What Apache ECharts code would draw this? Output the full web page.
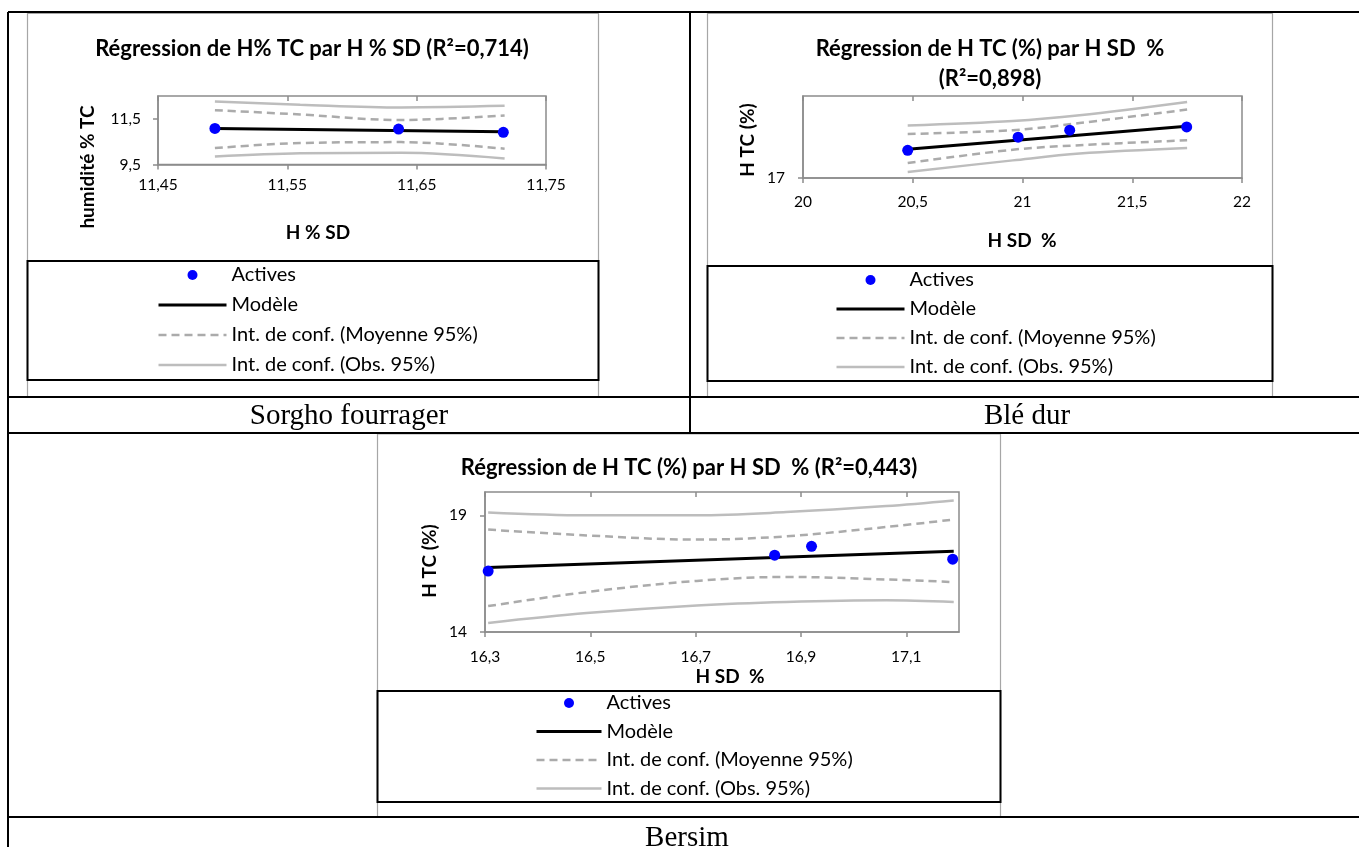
<!DOCTYPE html>
<html>
<head>
<meta charset="utf-8">
<title>Régressions H TC / H SD</title>
<script src="https://cdn.jsdelivr.net/npm/echarts@6/dist/echarts.min.js"></script>
<style>
  html, body { margin: 0; padding: 0; background: #fff; }
  #chart { width: 1359px; height: 847px; }
</style>
</head>
<body>
<div id="chart"></div>
<script>
// ---------- Sorgho fourrager ----------
const sorghoX = [11.494, 11.636, 11.717];
const sorghoY = [11.08, 11.05, 10.91];
const sorghoModelX = [11.494, 11.717];
const sorghoModelY = [11.08, 10.93];
const sorghoBandX = [11.494, 11.56, 11.638, 11.718];
const sorghoMeanUp = [11.88, 11.69, 11.45, 11.65];
const sorghoMeanLow = [10.22, 10.44, 10.48, 10.19];
const sorghoObsUp = [12.26, 12.12, 12.0, 12.07];
const sorghoObsLow = [9.85, 9.99, 10.01, 9.76];
const sorghoXTicks = [11.45, 11.55, 11.65, 11.75];
const sorghoYTicks = [9.5, 11.5];

// ---------- Blé dur ----------
const bleX = [20.477, 20.98, 21.215, 21.748];
const bleY = [18.35, 18.99, 19.33, 19.49];
const bleModelX = [20.477, 21.748];
const bleModelY = [18.40, 19.53];
const bleBandX = [20.477, 20.956, 21.26, 21.75];
const bleMeanUp = [19.15, 19.33, 19.68, 20.34];
const bleMeanLow = [17.73, 18.38, 18.60, 18.84];
const bleObsUp = [19.56, 19.78, 20.06, 20.71];
const bleObsLow = [17.29, 17.86, 18.19, 18.46];
const bleXTicks = [20, 20.5, 21, 21.5, 22];
const bleYTicks = [17];

// ---------- Bersim ----------
const bersimX = [16.306, 16.85, 16.92, 17.188];
const bersimY = [16.61, 17.29, 17.67, 17.12];
const bersimModelX = [16.306, 17.19];
const bersimModelY = [16.76, 17.46];
const bersimBandX = [16.306, 16.493, 16.702, 16.872, 17.062, 17.19];
const bersimMeanUp = [18.39, 18.14, 17.96, 18.10, 18.50, 18.82];
const bersimMeanLow = [15.11, 15.71, 16.19, 16.36, 16.25, 16.14];
const bersimObsUp = [19.12, 19.0, 19.0, 19.14, 19.40, 19.64];
const bersimObsLow = [14.39, 14.81, 15.14, 15.29, 15.36, 15.29];
const bersimXTicks = [16.3, 16.5, 16.7, 16.9, 17.1];
const bersimYTicks = [14, 19];

const NAME_PTS = 'Actives';
const NAME_MODEL = 'Modèle';
const NAME_MEAN = 'Int. de conf. (Moyenne 95%)';
const NAME_OBS = 'Int. de conf. (Obs. 95%)';

const AXIS_GREY = '#8c8c8c';
const FONT = 'Lato';

function pairs(xs, ys) { return xs.map((x, i) => [x, ys[i]]); }
function fmt(v) { return String(+(+v).toFixed(3)).replace('.', ','); }

const panels = [
  { grid: { left: 158, top: 96, width: 388, height: 68.5 },
    x: [11.45, 11.75], y: [9.5, 12.5], xTicks: sorghoXTicks, yTicks: sorghoYTicks,
    xMargin: 12, yMargin: 17,
    pts: pairs(sorghoX, sorghoY), model: pairs(sorghoModelX, sorghoModelY),
    meanUp: pairs(sorghoBandX, sorghoMeanUp), meanLow: pairs(sorghoBandX, sorghoMeanLow),
    obsUp: pairs(sorghoBandX, sorghoObsUp), obsLow: pairs(sorghoBandX, sorghoObsLow) },
  { grid: { left: 803, top: 96, width: 439, height: 82 },
    x: [20, 22], y: [17, 21], xTicks: bleXTicks, yTicks: bleYTicks,
    xMargin: 16, yMargin: 18,
    pts: pairs(bleX, bleY), model: pairs(bleModelX, bleModelY),
    meanUp: pairs(bleBandX, bleMeanUp), meanLow: pairs(bleBandX, bleMeanLow),
    obsUp: pairs(bleBandX, bleObsUp), obsLow: pairs(bleBandX, bleObsLow) },
  { grid: { left: 485, top: 492, width: 474, height: 140 },
    x: [16.3, 17.2], y: [14, 20], xTicks: bersimXTicks, yTicks: bersimYTicks,
    xMargin: 17, yMargin: 18,
    pts: pairs(bersimX, bersimY), model: pairs(bersimModelX, bersimModelY),
    meanUp: pairs(bersimBandX, bersimMeanUp), meanLow: pairs(bersimBandX, bersimMeanLow),
    obsUp: pairs(bersimBandX, bersimObsUp), obsLow: pairs(bersimBandX, bersimObsLow) }
];

const grids = [], xAxes = [], yAxes = [], series = [];
const axisLineStyle = { color: AXIS_GREY, width: 1.5 };

panels.forEach((p, i) => {
  grids.push(Object.assign({ show: true, borderColor: AXIS_GREY, borderWidth: 1.5,
    backgroundColor: 'transparent', outerBoundsMode: 'none' }, p.grid));
  // main x axis: labels and outward ticks
  xAxes.push({ type: 'value', gridIndex: i, min: p.x[0], max: p.x[1],
    axisLine: { show: true, onZero: false, lineStyle: axisLineStyle },
    axisTick: { show: true, length: 5, customValues: p.xTicks, lineStyle: axisLineStyle },
    axisLabel: { customValues: p.xTicks, formatter: fmt, margin: p.xMargin,
      color: '#000', fontFamily: FONT, fontSize: 15.5 },
    splitLine: { show: false } });
  // second x axis: inward half of the crossing tick marks
  xAxes.push({ type: 'value', gridIndex: i, min: p.x[0], max: p.x[1],
    axisLine: { show: false },
    axisTick: { show: true, inside: true, length: 5, customValues: p.xTicks, lineStyle: axisLineStyle },
    axisLabel: { show: false }, splitLine: { show: false } });
  yAxes.push({ type: 'value', gridIndex: i, min: p.y[0], max: p.y[1],
    axisLine: { show: true, onZero: false, lineStyle: axisLineStyle },
    axisTick: { show: true, length: 5, customValues: p.yTicks, lineStyle: axisLineStyle },
    axisLabel: { customValues: p.yTicks, formatter: fmt, margin: p.yMargin,
      color: '#000', fontFamily: FONT, fontSize: 15.5 },
    splitLine: { show: false } });

  const xi = i * 2, yi = i;
  const band = (name, data, dashed) => ({
    type: 'line', name, data, xAxisIndex: xi, yAxisIndex: yi,
    smooth: 0.35, symbol: 'none', silent: true, z: 2,
    lineStyle: { color: dashed ? '#ababab' : '#bdbdbd', width: 2.5, type: dashed ? [8, 5] : 'solid' },
    itemStyle: { color: dashed ? '#ababab' : '#bdbdbd' }
  });
  series.push(band(NAME_OBS, p.obsUp, false));
  series.push(band(NAME_OBS, p.obsLow, false));
  series.push(band(NAME_MEAN, p.meanUp, true));
  series.push(band(NAME_MEAN, p.meanLow, true));
  series.push({ type: 'line', name: NAME_MODEL, data: p.model, xAxisIndex: xi, yAxisIndex: yi,
    symbol: 'none', silent: true, z: 3,
    lineStyle: { color: '#000', width: 3 }, itemStyle: { color: '#000' } });
  series.push({ type: 'scatter', name: NAME_PTS, data: p.pts, xAxisIndex: xi, yAxisIndex: yi,
    symbol: 'circle', symbolSize: 11, z: 4, itemStyle: { color: '#0000ff', opacity: 1 } });
});

// legend keys: a dot for the points, bare line samples for the three curves
const legendItems = [
  { name: NAME_PTS },
  { name: NAME_MODEL, itemStyle: { opacity: 0 } },
  { name: NAME_MEAN, itemStyle: { opacity: 0 } },
  { name: NAME_OBS, itemStyle: { opacity: 0 } }
];
function legendAt(left, top, gap, width) {
  return { orient: 'vertical', left, top, padding: 0, itemGap: gap,
    itemWidth: width, itemHeight: 10, selectedMode: false,
    lineStyle: { width: 'inherit' },
    textStyle: { fontFamily: FONT, fontSize: 20, color: '#000', lineHeight: 20 },
    data: legendItems };
}

// ---------- page furniture: table rules, chart frames, texts ----------
function hline(x1, x2, y, w, c) {
  return { type: 'line', silent: true, z: 10, shape: { x1, y1: y, x2, y2: y }, style: { stroke: c || '#000', lineWidth: w || 2 } };
}
function vline(x, y1, y2, w, c) {
  return { type: 'line', silent: true, z: 10, shape: { x1: x, y1, x2: x, y2 }, style: { stroke: c || '#000', lineWidth: w || 2 } };
}
function frame(x, y, w, h, c, lw) {
  return { type: 'rect', silent: true, z: 0, shape: { x, y, width: w, height: h },
    style: { fill: 'transparent', stroke: c, lineWidth: lw } };
}
function text(str, x, y, font, opts) {
  return Object.assign({ type: 'text', silent: true, z: 20, x, y,
    style: { text: str, font, fill: '#000', align: 'center', verticalAlign: 'middle' } }, opts || {});
}

const TITLE_FONT = 'bold 22px ' + FONT;
const AXIS_TITLE_FONT = 'bold 19px ' + FONT;
const CAPTION_FONT = '29px "Liberation Serif"';

const graphics = [
  // chart frames
  frame(27.5, 13.5, 571, 383.5, '#a6a6a6', 1.2),
  frame(707.5, 13.5, 565, 383.5, '#a6a6a6', 1.2),
  frame(377.5, 434, 623, 383, '#a6a6a6', 1.2),
  // legend boxes
  frame(27.5, 261, 571, 119, '#000', 2),
  frame(707.5, 266, 565, 115, '#000', 2),
  frame(377.5, 691, 623, 111, '#000', 2),
  // table rules
  hline(8, 1362, 12), vline(8, 12, 860),
  vline(690, 12, 433),
  hline(8, 1362, 397), hline(8, 1362, 433), hline(8, 1362, 817),
  // chart titles
  text('Régression de H% TC par H % SD (R²=0,714)', 312, 49, TITLE_FONT),
  text('Régression de H TC (%) par H SD  %', 990, 49, TITLE_FONT),
  text('(R²=0,898)', 990, 79, TITLE_FONT),
  text('Régression de H TC (%) par H SD  % (R²=0,443)', 689, 468, TITLE_FONT),
  // axis titles
  text('humidité % TC', 88, 167, AXIS_TITLE_FONT, { rotation: Math.PI / 2 }),
  text('H % SD', 318, 233, AXIS_TITLE_FONT),
  text('H TC (%)', 748, 140, AXIS_TITLE_FONT, { rotation: Math.PI / 2 }),
  text('H SD  %', 1022, 241, AXIS_TITLE_FONT),
  text('H TC (%)', 430, 561, AXIS_TITLE_FONT, { rotation: Math.PI / 2 }),
  text('H SD  %', 730, 677, AXIS_TITLE_FONT),
  // crop captions
  text('Sorgho fourrager', 349, 416, CAPTION_FONT),
  text('Blé dur', 1027, 416, CAPTION_FONT),
  text('Bersim', 687, 838, CAPTION_FONT)
];

const chart = echarts.init(document.getElementById('chart'), null, { renderer: 'canvas' });
chart.setOption({
  backgroundColor: '#fff',
  animation: false,
  grid: grids,
  xAxis: xAxes,
  yAxis: yAxes,
  legend: [legendAt(157, 265, 10, 68), legendAt(835, 270, 9, 68), legendAt(535, 693, 8.5, 65)],
  graphic: graphics,
  series
});
</script>
</body>
</html>
